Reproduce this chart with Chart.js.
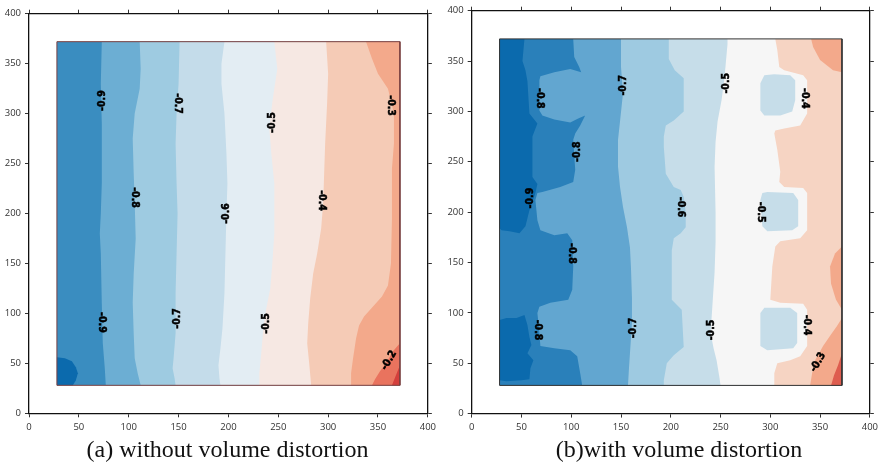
<!DOCTYPE html>
<html>
<head>
<meta charset="utf-8">
<script src="https://cdn.jsdelivr.net/npm/chart.js@4.4.1/dist/chart.umd.min.js"></script>
<style>
html, body { margin: 0; padding: 0; background: #fff; overflow: hidden; width: 882px; height: 467px; }
#wrapA { position: absolute; left: 0; top: 0; width: 440px; height: 440px; }
#wrapB { position: absolute; left: 440px; top: 0; width: 442px; height: 440px; }
.cap { position: absolute; top: 437px; font: 24px 'Liberation Serif', 'Times New Roman', serif; line-height: 24px;
       color: #111; white-space: nowrap; transform: translateX(-50%); }
</style>
</head>
<body>
<div id="wrapA"><canvas id="chartA" width="440" height="440"></canvas></div>
<div id="wrapB"><canvas id="chartB" width="442" height="440"></canvas></div>
<div class="cap" style="left:227.5px">(a) without volume distortion</div>
<div class="cap" style="left:679px">(b)with volume distortion</div>
<script>
// axis ticks and the measured field (same for both panels)
const axisTicks = [0, 50, 100, 150, 200, 250, 300, 350, 400];
const field = [28, 372];

// ---- (a) without volume distortion : contour boundaries, top -> bottom ----
const aDeep = [[28,56],[36,55],[43,52],[47,46],[49,40],[47,33],[44,28],[28,28]];
const aC09 = [[73,372],[72,330],[73,290],[73,230],[72,200],[71,180],[72,160],[73,110],[74,70],[76,45],[77,28]];
const aC08 = [[111,372],[112,345],[111,325],[106,300],[104,275],[105,240],[106,211],[107,175],[105,140],[104,111],[105,80],[106,55],[109,40],[112,28]];
const aC07 = [[151,372],[150,330],[148,300],[147,270],[148,230],[149,200],[148,160],[147,120],[147,80],[145,55],[144,45],[146,35],[147,28]];
const aC06 = [[196,372],[193,350],[193,330],[196,300],[198,260],[199,230],[198,200],[197,160],[196,120],[194,85],[192,65],[190,48],[191,35],[192,28]];
const aC05 = [[246,372],[249,345],[246,325],[244,311],[241,285],[243,260],[246,230],[246,180],[244,150],[242,125],[238,105],[235,85],[233,61],[231,40],[231,28]];
const aC04 = [[298,372],[300,340],[299,311],[297,270],[296,240],[295,210],[293,185],[289,160],[285,140],[282,115],[280,90],[279,70],[281,50],[283,28]];
const aC03 = [[338,372],[344,355],[350,340],[360,325],[366,300],[366,270],[364,245],[364,195],[363,150],[360,128],[354,117],[345,107],[336,97],[331,88],[328,75],[325,55],[323,40],[323,28]];
const aC02 = [[372,70],[365,62],[358,50],[352,42],[347,34],[344,28]];
const aC01 = [[372,48],[368,38],[364,28]];
const aLabels = [
  [73,313,'-0.9',-90], [149,310,'-0.7',90], [244,291,'-0.5',-90], [363,308,'-0.3',90],
  [106,216,'-0.8',90], [198,200,'-0.6',-90], [294,213,'-0.4',90],
  [73,91,'-0.9',90], [149,95,'-0.7',-90], [238,90,'-0.5',-90], [361,53,'-0.2',-60]
];

// ---- (b) with volume distortion ----
const bDeepTop = [[28,372],[53,372],[51,350],[54,341],[56,330],[58,298],[66,288],[61,275],[61,235],[66,228],[64,219],[58,202],[54,186],[48,179],[38,181],[30,182],[28,184]];
const bDeepLow = [[28,93],[35,95],[45,95],[53,98],[56,88],[58,76],[60,68],[56,60],[62,53],[59,45],[58,34],[50,33],[35,32],[28,33]];
const bC08 = [[102,372],[103,354],[108,344],[110,339],[99,342],[83,339],[69,335],[68,331],[68,301],[71,296],[83,292],[99,289],[107,293],[114,296],[109,286],[104,278],[102,272],[104,242],[102,230],[89,225],[71,220],[66,219],[64,212],[66,192],[69,182],[83,177],[96,179],[101,172],[102,146],[101,123],[97,113],[79,110],[68,106],[66,100],[68,80],[69,67],[83,65],[99,63],[106,57],[109,40],[111,28]];
const bC07 = [[150,372],[150,344],[152,318],[149,290],[147,272],[147,245],[149,225],[152,205],[156,185],[159,165],[160,145],[161,115],[161,90],[159,60],[158,45],[157,28]];
const bC06 = [[198,372],[198,352],[204,341],[213,333],[213,300],[203,291],[195,286],[193,275],[193,265],[195,238],[203,225],[210,222],[213,215],[215,200],[215,185],[210,179],[203,174],[201,162],[201,113],[211,103],[213,66],[203,58],[196,50],[193,33],[193,28]];
const bC05 = [[257,372],[257,367],[254,334],[251,311],[247,290],[245,270],[244,245],[245,200],[245,170],[244,140],[242,110],[241,95],[240,80],[243,65],[246,53],[249,35],[250,28]];
const bIsle1 = [[294,336],[304,337],[320,336],[325,331],[325,311],[322,300],[310,296],[294,296],[290,301],[290,328]];
const bIsle2 = [[292,219],[297,220],[323,219],[328,212],[328,186],[322,182],[297,181],[292,186],[290,212]];
const bIsle3 = [[294,105],[320,105],[327,100],[327,70],[323,65],[297,63],[290,67],[290,80],[290,100]];
const bC04 = [[305,372],[307,361],[309,344],[314,341],[333,336],[337,331],[337,298],[330,286],[314,283],[305,281],[304,278],[307,262],[310,240],[309,230],[314,225],[333,224],[337,219],[337,182],[330,174],[310,171],[305,166],[302,146],[300,113],[310,110],[333,109],[337,103],[337,67],[330,57],[320,53],[307,50],[304,40],[304,28]];
const bC03a = [[341,372],[343,364],[350,351],[363,341],[372,339]];
const bC03b = [[372,166],[365,159],[360,146],[361,129],[366,113],[372,103]];
const bC03c = [[372,95],[367,87],[362,80],[353,67],[345,53],[342,40],[340,28]];
const bC02 = [[372,60],[368,48],[364,38],[361,28]];
const bLabels = [
  [68,313,'-0.8',90], [152,326,'-0.7',-90], [256,328,'-0.5',-90], [335,313,'-0.4',90],
  [106,260,'-0.8',-90], [59,214,'-0.9',-90], [210,205,'-0.6',90], [290,200,'-0.5',90],
  [101,159,'-0.8',90], [66,83,'-0.8',90], [162,85,'-0.7',-90], [241,83,'-0.5',-90],
  [337,88,'-0.4',90], [348,51,'-0.3',-60]
];

// region to the right of a boundary, closed along the right edge of the field
function closeRight(pts) {
  const out = pts.slice();
  const first = pts[0], last = pts[pts.length - 1];
  if (last[1] <= field[0] && last[0] < field[1]) out.push([field[1], field[0]]);
  if (first[1] >= field[1] && first[0] < field[1]) out.push([field[1], field[1]]);
  return out;
}
const fullField = [[field[0],field[0]],[field[0],field[1]],[field[1],field[1]],[field[1],field[0]]];

function makeDatasets(layers, frameColor) {
  const n = layers.length;
  const sets = layers.map((l, i) => ({
    data: l[0].map(p => ({x: p[0], y: p[1]})),
    backgroundColor: l[1],
    borderWidth: 0,
    pointRadius: 0,
    fill: 'shape',
    tension: 0,
    order: n - i + 1
  }));
  sets.push({
    data: fullField.concat([fullField[0]]).map(p => ({x: p[0], y: p[1]})),
    borderColor: frameColor,
    borderWidth: 1,
    pointRadius: 0,
    fill: false,
    tension: 0,
    order: 0
  });
  return sets;
}

function labelPlugin(items) {
  return {
    id: 'contourLabels',
    afterDatasetsDraw(chart) {
      const {ctx, scales: {x, y}} = chart;
      ctx.save();
      ctx.font = 'bold 10.5px "DejaVu Sans Condensed", "DejaVu Sans", sans-serif';
      ctx.fillStyle = '#000';
      ctx.strokeStyle = '#000';
      ctx.lineWidth = 0.5;
      ctx.textAlign = 'center';
      ctx.textBaseline = 'middle';
      items.forEach(([vx, vy, txt, rot]) => {
        ctx.save();
        ctx.translate(x.getPixelForValue(vx), y.getPixelForValue(vy));
        ctx.rotate(rot * Math.PI / 180);
        ctx.fillText(txt, 0, 0);
        ctx.strokeText(txt, 0, 0);
        ctx.restore();
      });
      ctx.restore();
    }
  };
}

function axis(pos, showLabels, size) {
  return {
    type: 'linear', position: pos, min: 0, max: 400,
    afterBuildTicks: s => { s.ticks = axisTicks.map(v => ({value: v})); },
    afterFit: s => { if (s.isHorizontal()) s.height = size; else s.width = size; },
    grid: {drawOnChartArea: false, drawTicks: true, tickLength: 4, color: '#333', lineWidth: 1},
    border: {display: true, color: '#111', width: 1.3},
    ticks: {display: showLabels, font: {family: "'Open Sans', sans-serif", size: 9.5}, color: '#333',
            padding: 4, maxRotation: 0, autoSkip: false}
  };
}

function makeChart(id, layers, frameColor, labels, sz) {
  new Chart(document.getElementById(id), {
    type: 'line',
    data: {datasets: makeDatasets(layers, frameColor)},
    options: {
      responsive: false,
      animation: false,
      events: [],
      layout: {padding: 0, autoPadding: false},
      plugins: {legend: {display: false}, tooltip: {enabled: false}},
      scales: {
        x: axis('bottom', true, sz[3]),
        x2: axis('top', false, sz[1]),
        y: axis('left', true, sz[0]),
        y2: axis('right', false, sz[2])
      }
    },
    plugins: [labelPlugin(labels)]
  });
}

makeChart('chartA', [
  [fullField, '#3a8dc0'],
  [aDeep, '#0b6aad'],
  [closeRight(aC09), '#6caed3'],
  [closeRight(aC08), '#9ecbe1'],
  [closeRight(aC07), '#c4dcea'],
  [closeRight(aC06), '#e3edf3'],
  [closeRight(aC05), '#f6e8e3'],
  [closeRight(aC04), '#f5cbb6'],
  [closeRight(aC03), '#f3a98b'],
  [closeRight(aC02), '#e9735e'],
  [closeRight(aC01), '#d43f3c']
], '#7a4040', aLabels, [29, 13.7, 11, 26.7]);

makeChart('chartB', [
  [fullField, '#2a80ba'],
  [bDeepTop, '#0b6aad'],
  [bDeepLow, '#0b6aad'],
  [closeRight(bC08), '#62a6d0'],
  [closeRight(bC07), '#9ecae1'],
  [closeRight(bC06), '#c6dde9'],
  [closeRight(bC05), '#f6f6f6'],
  [bIsle1, '#c6dde9'],
  [bIsle2, '#c6dde9'],
  [bIsle3, '#c6dde9'],
  [closeRight(bC04), '#f6d4c3'],
  [closeRight(bC03a), '#f3a98b'],
  [closeRight(bC03b), '#f3a98b'],
  [closeRight(bC03c), '#f3a98b'],
  [closeRight(bC02), '#de5d4f']
], '#333', bLabels, [31.7, 10.7, 6.3, 26.4]);
</script>
</body>
</html>
